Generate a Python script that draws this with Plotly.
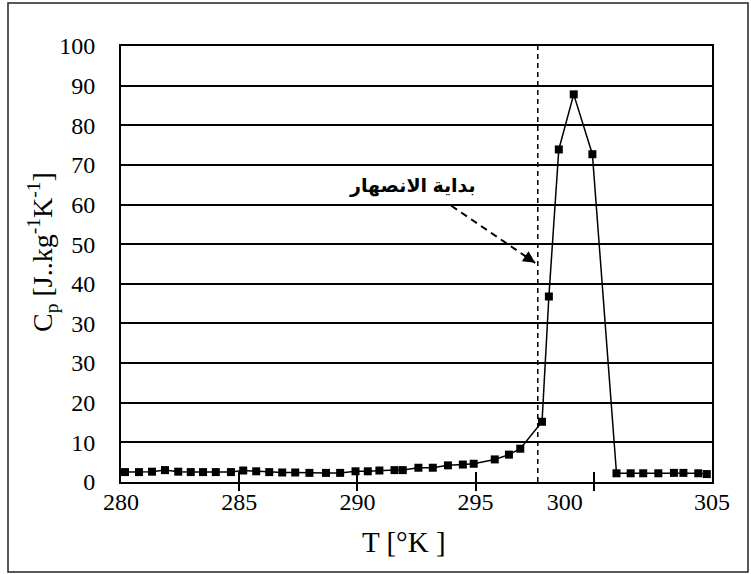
import plotly.graph_objects as go

# ---- data (y in plot units, gridline every 10) ----
T_K = [280.17, 280.76, 281.31, 281.86, 282.42, 282.95, 283.47, 284.01, 284.65,
       285.17, 285.72, 286.27, 286.82, 287.37, 287.97, 288.67, 289.27, 289.92,
       290.44, 290.93, 291.57, 291.92, 292.58, 293.19, 293.83, 294.46, 294.92,
       295.81, 296.41, 296.89, 297.81, 298.10, 298.52, 299.15, 299.94, 300.96,
       301.56, 302.09, 302.73, 303.39, 303.79, 304.42, 304.78]
CP = [2.5, 2.5, 2.6, 3.0, 2.6, 2.5, 2.5, 2.5, 2.5,
      2.9, 2.7, 2.5, 2.4, 2.4, 2.3, 2.3, 2.3, 2.7,
      2.7, 2.9, 3.0, 3.0, 3.6, 3.6, 4.2, 4.4, 4.6,
      5.7, 6.9, 8.4, 15.2, 46.8, 83.9, 97.8, 82.7, 2.2,
      2.2, 2.2, 2.2, 2.3, 2.3, 2.2, 2.0]

Y_TICKVALS = [0, 10, 20, 30, 40, 50, 60, 70, 80, 90, 100, 110]
Y_TICKTEXT = ["0", "10", "20", "30", "30", "40", "50", "60", "70", "80", "90", "100"]
X_LABEL_POS = [280, 285, 290, 295, 298.77, 305]
X_LABEL_TXT = ["280", "285", "290", "295", "300", "305"]
X_TICK_MARKS = [285, 290, 295, 300]

ONSET_T = 297.63
LABEL_TEXT = "بداية الانصهار"
LABEL_POS = (292.33, 74.7)
ARROW_START = (293.97, 69.7)
ARROW_END = (297.52, 55.3)

SERIF = "Liberation Serif"

W, H = 751, 574
ML, MR, MT, MB = 121, 39, 46, 92
pw, ph = W - ML - MR, H - MT - MB


def px_x(p):
    return (p - ML) / pw


def px_y(p):
    return ((H - MB) - p) / ph


fig = go.Figure()
fig.add_trace(go.Scatter(
    x=T_K, y=CP, mode="lines+markers",
    line=dict(color="black", width=1.5),
    marker=dict(symbol="square", size=8, color="black"),
    showlegend=False, hoverinfo="skip"))
# empty traces for the tick-mark overlay axes
fig.add_trace(go.Scatter(x=[], y=[], xaxis="x2", showlegend=False))
fig.add_trace(go.Scatter(x=[], y=[], xaxis="x3", showlegend=False))

fig.add_vline(x=ONSET_T, line=dict(color="black", width=1.5, dash="5px,4px"))

# dashed leader line + arrow head
fig.add_shape(type="line", x0=ARROW_START[0], y0=ARROW_START[1],
              x1=ARROW_END[0], y1=ARROW_END[1], xref="x", yref="y",
              line=dict(color="black", width=2, dash="7px,5px"))
fig.add_annotation(x=ARROW_END[0], y=ARROW_END[1], xref="x", yref="y",
                   ax=-12, ay=-8, text="", showarrow=True,
                   arrowhead=2, arrowsize=1.6, arrowwidth=1.5, arrowcolor="black",
                   standoff=0, startstandoff=0)
fig.add_annotation(x=LABEL_POS[0], y=LABEL_POS[1], xref="x", yref="y",
                   xanchor="center", yanchor="middle",
                   text="<b>" + LABEL_TEXT + "</b>", showarrow=False,
                   font=dict(family="Arial, DejaVu Sans, sans-serif", size=19, color="black"))

# axis titles
fig.add_annotation(x=px_x(404), y=px_y(541.5), xref="paper", yref="paper",
                   xanchor="center", yanchor="middle",
                   text="T [°K ]", showarrow=False,
                   font=dict(family=SERIF, size=29, color="black"))
fig.add_annotation(x=px_x(42), y=px_y(252), xref="paper", yref="paper",
                   xanchor="center", yanchor="middle",
                   text="C<sub>p</sub> [J..kg<sup>-1</sup>K<sup>-1</sup>]",
                   textangle=-90, showarrow=False,
                   font=dict(family=SERIF, size=28, color="black"))

# outer border of the figure
fig.add_shape(type="rect", xref="paper", yref="paper",
              x0=px_x(8), x1=px_x(748), y0=px_y(572), y1=px_y(3),
              line=dict(color="#222", width=1.5), layer="below")

fig.update_layout(
    width=W, height=H,
    margin=dict(l=ML, r=MR, t=MT, b=MB, pad=0),
    paper_bgcolor="white", plot_bgcolor="white",
    font=dict(family=SERIF, size=24, color="black"),
    xaxis=dict(range=[280, 305], tickvals=X_LABEL_POS, ticktext=X_LABEL_TXT,
               ticks="", showgrid=False, zeroline=False, ticklabelstandoff=-3,
               showline=True, linecolor="black", linewidth=2, mirror=True,
               tickfont=dict(family=SERIF, size=24, color="black")),
    xaxis2=dict(range=[280, 305], overlaying="x", anchor="y", side="bottom",
                tickvals=X_TICK_MARKS, ticks="inside", ticklen=10, tickwidth=2,
                tickcolor="black", showticklabels=False, showgrid=False,
                zeroline=False, showline=False),
    xaxis3=dict(range=[280, 305], overlaying="x", anchor="y", side="bottom",
                tickvals=X_TICK_MARKS, ticks="outside", ticklen=8, tickwidth=2,
                tickcolor="black", showticklabels=False, showgrid=False,
                zeroline=False, showline=False),
    yaxis=dict(range=[0, 110], tickvals=Y_TICKVALS, ticktext=Y_TICKTEXT,
               ticks="", ticklabelstandoff=19,
               showgrid=True, gridcolor="black", gridwidth=2, zeroline=False,
               showline=True, linecolor="black", linewidth=2, mirror=True,
               tickfont=dict(family=SERIF, size=24, color="black")),
)

fig.write_html("out.html", post_script="document.body.style.margin='0';",
               config={"displayModeBar": False})
